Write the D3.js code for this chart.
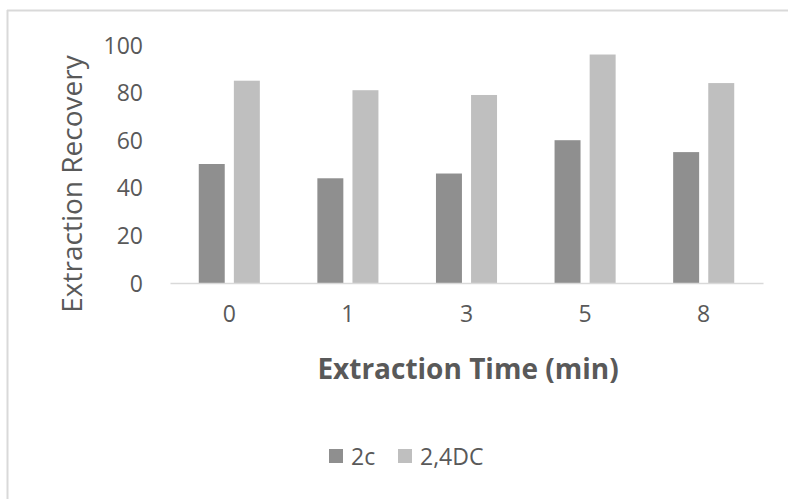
<!DOCTYPE html>
<meta charset="utf-8">
<style>
  body { margin: 0; background: #fff; }
  svg { display: block; font-family: "Open Sans", Lato, sans-serif; }
  .tick text { fill: #595959; font-family: "Open Sans", sans-serif; }
</style>
<body>
<svg width="788" height="499"></svg>
<script src="https://cdn.jsdelivr.net/npm/d3@7"></script>
<script>

// data
var times = ["0", "1", "3", "5", "8"];
var series = ["2c", "2,4DC"];
var val2c = [50, 44, 46, 60, 55];
var val24dc = [85, 81, 79, 96, 84];
var yTicks = [0, 20, 40, 60, 80, 100];
var colors = ["#8f8f8f", "#bfbfbf"];

var rows = times.map(function(t, i) {
  return { time: t, "2c": val2c[i], "2,4DC": val24dc[i] };
});

var svg = d3.select("svg");

// outer chart frame (cropped on the right / bottom)
svg.append("line").attr("x1", 7).attr("x2", 788).attr("y1", 10.5).attr("y2", 10.5)
  .attr("stroke", "#d9d9d9").attr("stroke-width", 2);
svg.append("line").attr("x1", 7.5).attr("x2", 7.5).attr("y1", 10).attr("y2", 499)
  .attr("stroke", "#d9d9d9").attr("stroke-width", 2);

// scales
var x0 = d3.scaleBand().domain(times).range([170, 763])
  .paddingInner(0.485).paddingOuter(0.2425);
var x1 = d3.scaleBand().domain(series).range([0, x0.bandwidth()]).paddingInner(0.26);
var y = d3.scaleLinear().domain([0, 100]).range([283, 45]);

// y axis: labels only
var yAxis = svg.append("g").attr("transform", "translate(143,0)")
  .call(d3.axisLeft(y).tickValues(yTicks).tickSize(0).tickPadding(0))
  .attr("font-family", null);
yAxis.select(".domain").remove();
yAxis.selectAll("text").style("font-size", "23px").attr("dy", "0.35em");

// bars
var groups = svg.selectAll(".grp").data(rows).enter().append("g")
  .attr("class", "grp")
  .attr("transform", function(d) { return "translate(" + x0(d.time) + ",0)"; });

groups.selectAll("rect").data(function(d) {
    return series.map(function(s, i) { return { key: s, value: d[s], idx: i }; });
  }).enter().append("rect")
  .attr("x", function(d) { return x1(d.key); })
  .attr("y", function(d) { return y(d.value); })
  .attr("width", x1.bandwidth())
  .attr("height", function(d) { return y(0) - y(d.value); })
  .attr("fill", function(d) { return colors[d.idx]; });

// x axis
var xAxis = svg.append("g").attr("transform", "translate(0,283)")
  .call(d3.axisBottom(x0).tickSize(0).tickPadding(23))
  .attr("font-family", null);
xAxis.select(".domain").attr("stroke", "#d9d9d9").attr("stroke-width", 1.5);
xAxis.selectAll("text").style("font-size", "23px");

// axis titles
svg.append("text")
  .attr("transform", "translate(82,184) rotate(-90)")
  .attr("text-anchor", "middle")
  .style("font-size", "28px")
  .style("fill", "#595959")
  .text("Extraction Recovery");

svg.append("text")
  .attr("x", 468).attr("y", 379)
  .attr("text-anchor", "middle")
  .style("font-size", "28px")
  .style("font-weight", "bold")
  .style("fill", "#595959")
  .text("Extraction Time (min)");

// legend
var legend = svg.append("g");
var legX = [329, 398];
series.forEach(function(s, i) {
  legend.append("rect").attr("x", legX[i]).attr("y", 449)
    .attr("width", 14).attr("height", 14).attr("fill", colors[i]);
  legend.append("text").attr("x", legX[i] + 22).attr("y", 465)
    .style("font-size", "23px").style("fill", "#595959")
    .text(s);
});

</script>
</body>
